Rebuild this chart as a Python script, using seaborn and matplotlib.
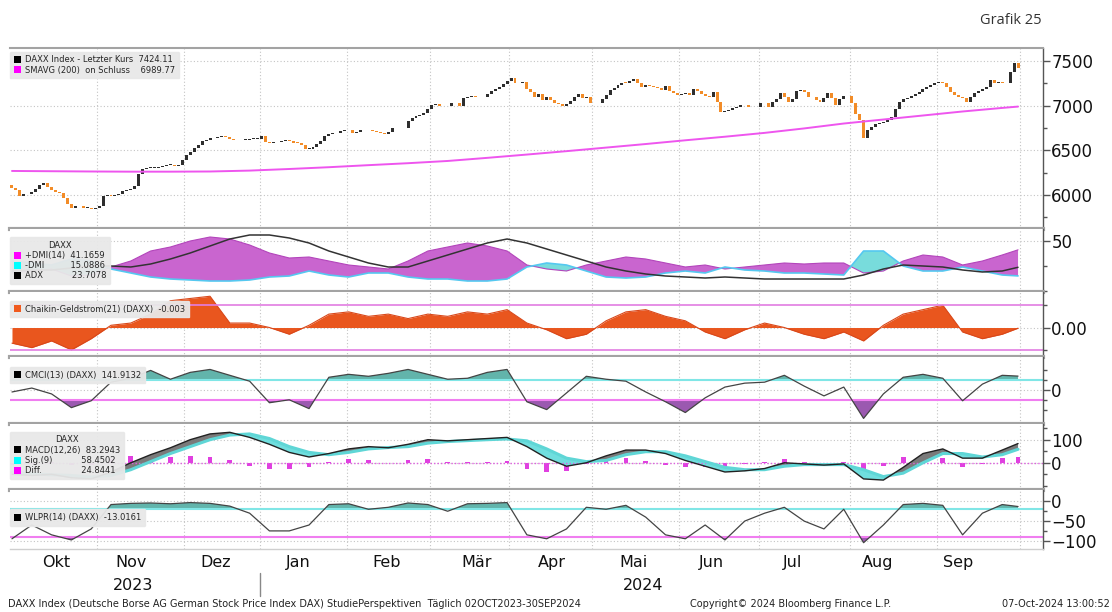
## multi-panel Bloomberg style chart: DAXX with studies
from matplotlib import pyplot as plt; import seaborn as sns
from matplotlib import transforms
from matplotlib.patches import Patch
import numpy as np

# daily closes, trading day 0 = 02 Oct 2023 ... 254 = 30 Sep 2024
close = [6079, 6050, 5990, 6005, 6015, 6030, 6067, 6110, 6130, 6090,
         6050, 6030, 6020, 5970, 5898, 5855, 5880, 5870, 5853, 5853,
         5845, 5850, 5880, 5990, 6000, 5990, 6000, 6008, 6040, 6060,
         6070, 6100, 6230, 6285, 6300, 6304, 6305, 6316, 6325, 6335,
         6335, 6325, 6340, 6390, 6450, 6480, 6520, 6560, 6600, 6620,
         6635, 6643, 6652, 6662, 6650, 6630, 6620, 6610, 6618, 6620,
         6625, 6631, 6631, 6665, 6590, 6582, 6590, 6598, 6609, 6618,
         6600, 6586, 6585, 6555, 6515, 6518, 6540, 6572, 6605, 6660,
         6682, 6690, 6699, 6718, 6730, 6722, 6695, 6702, 6722, 6730,
         6722, 6712, 6703, 6692, 6686, 6700, 6745, 6750, 6745, 6755,
         6830, 6862, 6880, 6892, 6920, 6962, 7004, 7024, 7000, 6992,
         7000, 7026, 7026, 6995, 7090, 7103, 7105, 7100, 7094, 7094,
         7130, 7165, 7185, 7205, 7238, 7278, 7308, 7252, 7252, 7262,
         7190, 7152, 7094, 7135, 7065, 7100, 7062, 7026, 7016, 6998,
         7015, 7050, 7100, 7135, 7088, 7094, 7035, 7026, 7035, 7070,
         7120, 7180, 7200, 7228, 7258, 7255, 7280, 7300, 7250, 7210,
         7229, 7220, 7212, 7200, 7180, 7225, 7165, 7140, 7120, 7135,
         7140, 7120, 7190, 7165, 7130, 7112, 7095, 7148, 7040, 6925,
         6940, 6955, 6970, 6985, 7004, 7004, 6990, 6981, 6990, 7026,
         7035, 6981, 7037, 7075, 7139, 7100, 7045, 7080, 7160, 7180,
         7150, 7100, 7094, 7060, 7040, 7090, 7139, 7090, 7004, 7075,
         7105, 7105, 7030, 6910, 6834, 6643, 6722, 6756, 6800, 6810,
         6820, 6835, 6870, 6960, 7045, 7071, 7090, 7108, 7135, 7155,
         7182, 7205, 7235, 7255, 7263, 7258, 7207, 7150, 7115, 7094,
         7083, 7040, 7100, 7139, 7161, 7184, 7207, 7286, 7252, 7263,
         7258, 7252, 7376, 7477, 7424]
first_open = 6110

# 200 day average, read every 10 trading days
sma_idx = list(range(0, 251, 10)) + [254]
sma_val = [6268, 6265, 6262, 6260, 6260, 6262, 6272, 6290, 6310, 6333,
           6355, 6380, 6415, 6452, 6490, 6530, 6570, 6612, 6652, 6695,
           6745, 6800, 6845, 6890, 6935, 6975, 6990]

# studies, read every 5 trading days
ind_idx = list(range(0, 251, 5)) + [254]
dmi_plus = [18, 20, 22, 15, 16, 24, 30, 40, 44, 50, 54, 52, 46, 38, 33, 34, 30, 26,
            24, 22, 30, 40, 44, 48, 45, 40, 26, 22, 20, 26, 30, 34, 32, 28, 24, 26,
            22, 24, 26, 28, 27, 28, 28, 18, 20, 30, 36, 34, 26, 30, 36, 41.17]
dmi_minus = [30, 28, 26, 32, 30, 22, 18, 14, 12, 11, 10, 10, 11, 14, 15, 20, 16, 14,
             18, 18, 14, 12, 12, 10, 10, 12, 24, 28, 26, 20, 14, 13, 14, 18, 20, 18,
             24, 21, 20, 18, 18, 17, 16, 40, 40, 25, 20, 20, 24, 20, 16, 15.09]
adx = [20, 21, 21, 23, 25, 25, 24, 27, 32, 38, 45, 52, 56, 56, 53, 48, 40, 34,
       28, 24, 24, 30, 36, 42, 48, 52, 48, 42, 36, 30, 24, 20, 17, 15, 14, 13,
       14, 13, 12, 12, 12, 12, 12, 16, 22, 26, 25, 24, 21, 19, 20, 23.71]
chaikin = [-0.07, -0.09, -0.06, -0.10, -0.05, 0.01, 0.02, 0.06, 0.12, 0.13, 0.14, 0.02,
           0.02, 0.00, -0.03, 0.01, 0.06, 0.07, 0.05, 0.06, 0.04, 0.06, 0.05, 0.07,
           0.06, 0.08, 0.02, -0.01, -0.05, -0.03, 0.03, 0.07, 0.08, 0.05, 0.03, -0.02,
           -0.05, -0.01, 0.02, 0.00, -0.03, -0.05, -0.02, -0.06, 0.01, 0.06, 0.08, 0.10,
           -0.02, -0.05, -0.03, -0.003]
cmci = [-20, 20, -40, -180, -110, 80, 120, 200, 110, 180, 210, 150, 90, -130, -100, -190,
        130, 160, 140, 170, 210, 160, 110, 120, 180, 210, -120, -200, -30, 140, 110, 90,
        -20, -120, -230, -80, 30, 70, 80, 150, 40, -60, 30, -290, -40, 130, 160, 120,
        -110, 60, 150, 141.9]
macd = [-50, -55, -50, -65, -70, -40, 0, 35, 65, 100, 125, 132, 110, 80, 45, 25, 40, 60,
        70, 65, 80, 100, 95, 100, 105, 110, 70, 20, -15, 0, 30, 55, 55, 40, 10, -15,
        -40, -35, -25, 0, -5, -10, -5, -70, -75, -20, 40, 60, 20, 20, 55, 83.29]
macd_sig = [-40, -48, -52, -55, -62, -55, -30, 5, 40, 70, 100, 120, 125, 105, 70, 45, 35, 45,
            60, 66, 70, 85, 92, 96, 100, 103, 95, 60, 20, 5, 10, 35, 48, 48, 30, 5,
            -20, -30, -30, -15, -8, -8, -8, -30, -60, -45, 0, 40, 40, 25, 35, 58.45]
wlpr = [-95, -60, -85, -98, -70, -8, -5, -4, -6, -3, -5, -12, -30, -75, -75, -60, -8, -6,
        -20, -15, -4, -8, -25, -6, -5, -3, -85, -95, -70, -15, -20, -10, -40, -85, -95, -60,
        -98, -50, -30, -15, -50, -70, -20, -105, -60, -8, -5, -10, -85, -30, -8, -13]

months = ["Okt", "Nov", "Dez", "Jan", "Feb", "Mär", "Apr", "Mai", "Jun", "Jul", "Aug", "Sep"]
month_pos = [11.2, 30.0, 51.5, 72.4, 94.5, 117.2, 136.3, 156.8, 176.7, 197.1, 218.5, 238.9]
month_start = [21.5, 43.5, 62.5, 84.5, 105.5, 125.5, 146.5, 168.5, 188.5, 211.5, 233.5, 254.5]

sns.set_theme(style="white")
plt.rcParams['font.family'] = ['DejaVu Sans']

W, H = 1112, 612
fig = plt.figure(figsize=(W / 100, H / 100), dpi=100)

def px_axes(top, bottom):
    return fig.add_axes([10 / W, 1 - bottom / H, (1043 - 10) / W, (bottom - top) / H])

def style(ax, ylim, major, minor, labels=None):
    ax.set_xlim(-0.5, 260.3)
    ax.set_ylim(*ylim)
    ax.yaxis.tick_right()
    ax.set_yticks(major)
    if labels is not None:
        ax.set_yticklabels(labels)
    ax.set_yticks(minor, minor=True)
    ax.tick_params(axis='y', which='major', direction='out', length=5, width=1,
                   color='#555555', labelsize=12, pad=1, labelcolor='#111111')
    ax.tick_params(axis='y', which='minor', direction='out', length=3, width=1, color='#555555')
    ax.set_xticks(month_start)
    ax.tick_params(axis='x', which='both', length=0, labelbottom=False)
    for s in ['left', 'top']:
        ax.spines[s].set_visible(False)
    ax.spines['right'].set_color('#555555')
    ax.spines['right'].set_linewidth(1)
    ax.spines['bottom'].set_color('#a3a3a3')
    ax.spines['bottom'].set_linewidth(3)
    ax.grid(True, which='major', color='#c4c4c4', linestyle=(0, (1, 2)), linewidth=0.8)
    ax.set_facecolor('white')

def legend(ax, items, y, title=None):
    handles = [Patch(facecolor=c, edgecolor='none') for c, _ in items]
    lg = ax.legend(handles, [t for _, t in items], loc='upper left', bbox_to_anchor=(0.001, y),
                   fontsize=6, title=title, title_fontsize=6, frameon=True, facecolor='#e8e8e8',
                   edgecolor='#e8e8e8', framealpha=0.95, handlelength=0.9, handleheight=0.9,
                   handletextpad=0.4, borderpad=0.35, labelspacing=0.15, borderaxespad=0)
    lg.get_frame().set_boxstyle('round,pad=0.1')
    return lg

# ---- price panel
ax1 = px_axes(48, 229)
idx = np.arange(len(close))
closes = np.array(close, dtype=float)
opens = np.r_[first_open, closes[:-1]]
lo = np.minimum(opens, closes)
body = np.maximum(np.abs(closes - opens), 8)
ax1.bar(idx, body, bottom=lo, width=0.75, linewidth=0,
        color=np.where(closes >= opens, '#2e2e2e', '#f28c28'))
sns.lineplot(x=sma_idx, y=sma_val, ax=ax1, color='#ee55ee', lw=1.4)
style(ax1, (5617, 7647), [6000, 6500, 7000, 7500], np.arange(5750, 7650, 250))
ax1.spines['top'].set_visible(True)
ax1.spines['top'].set_color('#a3a3a3')
ax1.spines['top'].set_linewidth(1.5)
legend(ax1, [('#000000', 'DAXX Index - Letzter Kurs  7424.11'),
             ('#ff00ff', 'SMAVG (200)  on Schluss    6989.77')], 0.975)

xi = np.array(ind_idx)

# ---- DMI
ax2 = px_axes(229, 292)
p = np.array(dmi_plus); m = np.array(dmi_minus)
ax2.fill_between(xi, m, p, where=p >= m, interpolate=True, color='#c965cf', lw=0)
ax2.fill_between(xi, m, p, where=p < m, interpolate=True, color='#78dcdc', lw=0)
sns.lineplot(x=xi, y=p, ax=ax2, color='#b345bb', lw=0.8)
sns.lineplot(x=xi, y=m, ax=ax2, color='#55c8f0', lw=1.2)
sns.lineplot(x=xi, y=adx, ax=ax2, color='#333333', lw=1.1)
style(ax2, (-1, 62), [50], [0, 25])
legend(ax2, [('#ff00ff', '+DMI(14)  41.1659'), ('#00ffff', '-DMI          15.0886'),
             ('#000000', 'ADX           23.7078')], 0.86, title='DAXX')

# ---- Chaikin
ax3 = px_axes(292, 357)
ch = np.array(chaikin)
ax3.fill_between(xi, 0, ch, color='#e9561e', lw=0)
sns.lineplot(x=xi, y=ch, ax=ax3, color='#d9481a', lw=0.8)
ax3.axhline(0.1, color='#e27de2', lw=1.2)
ax3.axhline(-0.1, color='#e27de2', lw=1.2)
style(ax3, (-0.132, 0.159), [0.0], [-0.1, 0.1], labels=['0.00'])
legend(ax3, [('#f05a1e', 'Chaikin-Geldstrom(21) (DAXX)  -0.003')], 0.85)

# ---- CMCI
ax4 = px_axes(357, 424)
c = np.array(cmci)
ax4.fill_between(xi, 100, c, where=c > 100, interpolate=True, color='#62b4ab', lw=0)
ax4.fill_between(xi, -100, c, where=c < -100, interpolate=True, color='#9b59b0', lw=0)
ax4.axhline(100, color='#80e6e6', lw=1.5)
ax4.axhline(-100, color='#f07ef0', lw=1.5)
sns.lineplot(x=xi, y=c, ax=ax4, color='#444444', lw=0.9)
style(ax4, (-347, 337), [0], [-200, -100, 100, 200])
legend(ax4, [('#000000', 'CMCI(13) (DAXX)  141.9132')], 0.84)

# ---- MACD
ax5 = px_axes(424, 490)
mc = np.array(macd); sg = np.array(macd_sig)
ax5.axhline(0, color='#e060e0', lw=1, ls=(0, (1, 1.5)))
ax5.bar(xi, mc - sg, width=1.2, color='#e040e0', linewidth=0)
ax5.fill_between(xi, sg, mc, where=mc >= sg, interpolate=True, color='#7a7a7a', lw=0)
ax5.fill_between(xi, sg, mc, where=mc < sg, interpolate=True, color='#70dede', lw=0)
sns.lineplot(x=xi, y=sg, ax=ax5, color='#5fd6d6', lw=2.2)
sns.lineplot(x=xi, y=mc, ax=ax5, color='#222222', lw=1)
style(ax5, (-118, 168), [0, 100], [-100, -50, 50, 150])
legend(ax5, [('#000000', 'MACD(12,26)  83.2943'), ('#00ffff', 'Sig.(9)           58.4502'),
             ('#ff00ff', 'Diff.               24.8441')], 0.87, title='DAXX')

# ---- Williams %R
ax6 = px_axes(490, 549)
w = np.array(wlpr)
ax6.fill_between(xi, -20, w, where=w > -20, interpolate=True, color='#62b4ab', lw=0)
ax6.fill_between(xi, -90, w, where=w < -90, interpolate=True, color='#9b59b0', lw=0)
ax6.axhline(-20, color='#80e6e6', lw=1.5)
ax6.axhline(-90, color='#f07ef0', lw=1.5)
sns.lineplot(x=xi, y=w, ax=ax6, color='#444444', lw=0.9)
style(ax6, (-121, 29), [0, -50, -100], [-25, -75])
ax6.spines['bottom'].set_linewidth(1)
ax6.spines['bottom'].set_color('#cfcfcf')
legend(ax6, [('#000000', 'WLPR(14) (DAXX)  -13.0161')], 0.66)

# month labels under the last panel
ax6.set_xticks(month_pos, minor=True)
ax6.set_xticklabels(months, minor=True)
ax6.tick_params(axis='x', which='minor', length=0, labelbottom=True, labelsize=11.5,
                pad=4, labelcolor='#111111')
ax6.tick_params(axis='x', which='major', length=3, color='#999999', labelbottom=False)

tr = transforms.blended_transform_factory(ax6.transData, fig.transFigure)
fig.text(30.6, 1 - 585 / H, '2023', transform=tr, ha='center', va='center', fontsize=11.5, color='#111111')
fig.text(159.3, 1 - 585 / H, '2024', transform=tr, ha='center', va='center', fontsize=11.5, color='#111111')
fig.add_artist(plt.Line2D([62.5, 62.5], [1 - 573 / H, 1 - 596 / H], transform=tr,
                          color='#888888', lw=1))

fig.text(8 / W, 1 - 604 / H,
         'DAXX Index (Deutsche Borse AG German Stock Price Index DAX) StudiePerspektiven  Täglich 02OCT2023-30SEP2024',
         fontsize=7, va='center', color='#222222')
fig.text(690 / W, 1 - 604 / H, 'Copyright© 2024 Bloomberg Finance L.P.', fontsize=7,
         va='center', color='#222222')
fig.text(1110 / W, 1 - 604 / H, '07-Oct-2024 13:00:52', fontsize=7, ha='right',
         va='center', color='#222222')
fig.text(1042 / W, 1 - 21 / H, 'Grafik 25', fontsize=10.5, ha='right', va='center',
         family=['Open Sans', 'DejaVu Sans'], color='#333333')

fig.savefig('out.png', dpi=100)
